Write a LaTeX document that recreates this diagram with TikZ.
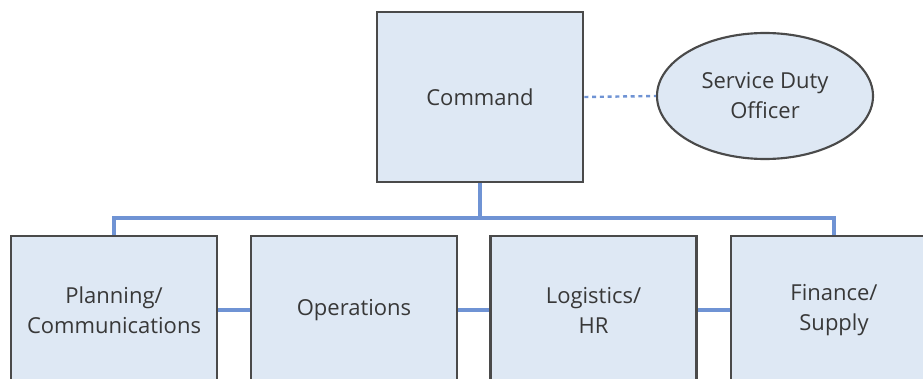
\documentclass[tikz,border=0pt]{standalone}
\usepackage{fontspec}
\setmainfont{Open Sans}
\usetikzlibrary{shapes.geometric}
\definecolor{boxfill}{HTML}{DEE8F4}
\definecolor{boxline}{HTML}{4A4A4A}
\definecolor{conncol}{HTML}{6F93D4}
\definecolor{txtcol}{HTML}{383838}
\begin{document}
\begin{tikzpicture}[x=0.75pt,y=-0.75pt,
  unitbox/.style={draw=boxline,fill=boxfill,line width=2pt,inner sep=0pt,
    align=center,text=txtcol,font=\fontsize{16.5}{22.5}\selectfont,
    minimum width=206*0.75pt},
  topbox/.style={unitbox,minimum height=170*0.75pt},
  lowbox/.style={unitbox,minimum height=148*0.75pt},
  oval/.style={ellipse,draw=boxline,fill=boxfill,line width=1.6pt,inner sep=0pt,
    align=center,text=txtcol,font=\fontsize{16.5}{22.5}\selectfont,
    minimum width=216*0.75pt,minimum height=126*0.75pt},
  conn/.style={draw=conncol,line width=2.4pt},
  dotconn/.style={draw=conncol,line width=1.8pt,dash pattern=on 3pt off 2.8pt}]
\useasboundingbox (0,0) rectangle (923,378);
\clip (0,0) rectangle (923,378);
\node[topbox] (cmd) at (480,97) {Command};
\node[oval] (sdo) at (765,96) {Service Duty\\Officer};
\node[lowbox] (plan) at (114,310) {Planning/\\Communications};
\node[lowbox] (ops) at (354,310) {Operations};
\node[lowbox] (log) at (593.5,310) {Logistics/\\HR};
\node[lowbox] (fin) at (834,310) {Finance/\\Supply};
\coordinate (bus) at (cmd.south |- 0,218);
\draw[dotconn] (cmd.east) -- (sdo.west);
\draw[conn] (cmd.south) -- (bus);
\draw[conn] (plan.north) |- (bus) -| (fin.north);
\draw[conn] (plan.east) -- (ops.west);
\draw[conn] (ops.east) -- (log.west);
\draw[conn] (log.east) -- (fin.west);
\end{tikzpicture}
\end{document}
